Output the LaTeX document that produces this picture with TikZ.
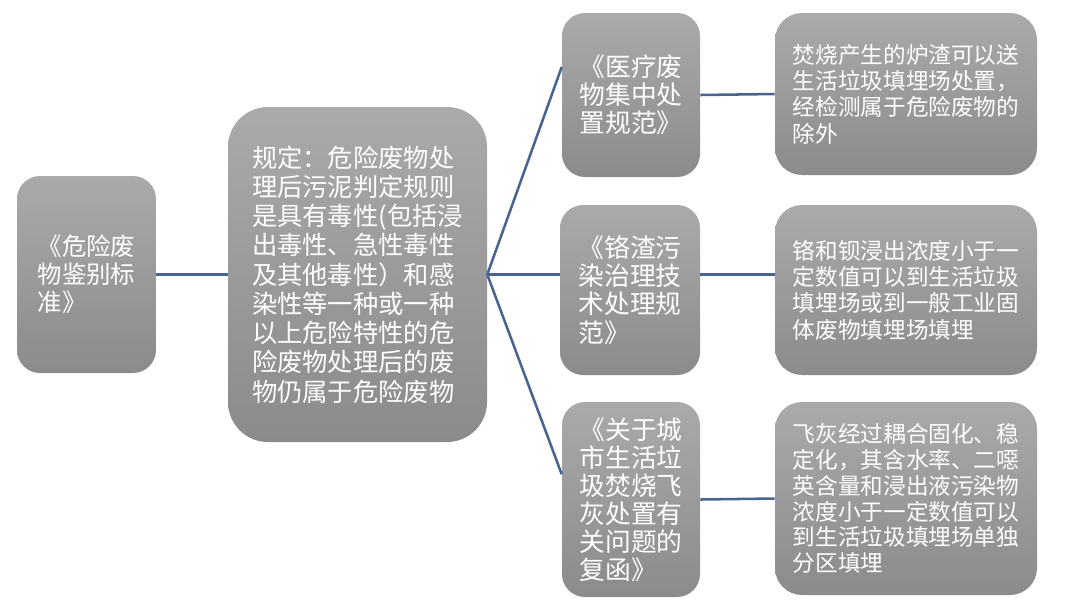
\documentclass[tikz,border=0pt]{standalone}
\usepackage{fontspec}
\setmainfont{Noto Sans CJK SC}

\definecolor{boxtop}{RGB}{170,170,170}
\definecolor{boxbottom}{RGB}{139,139,139}
\definecolor{linkblue}{RGB}{70,100,143}

\begin{document}
\begin{tikzpicture}[
    every node/.style={align=left, text=white},
    greybox/.style={
        top color=boxtop,
        bottom color=boxbottom,
        draw=none,
        inner sep=0pt
    },
    link/.style={
        draw=linkblue,
        line width=1.8pt
    }
]

\useasboundingbox (0,0) rectangle (27,-15.2);

% =================================================
% LINKS: NORM UND REGEL
% =================================================

% Identification standard
\node[
    greybox,
    rounded corners=0.575cm,
    minimum width=3.475cm,
    minimum height=4.925cm,
    font=\fontsize{17.4pt}{19.9pt}\selectfont
] (std) at (2.1625,-6.8625)
{《危险废\\物鉴别标\\准》};

% Rule box
\node[
    greybox,
    rounded corners=1.0cm,
    minimum width=6.475cm,
    minimum height=8.375cm,
    font=\fontsize{18pt}{20.8pt}\selectfont
] (rule) at (8.9375,-6.8625)
{规定：危险废物处\\
理后污泥判定规则\\
是具有毒性(包括浸\\
出毒性、急性毒性\\
及其他毒性）和感\\
染性等一种或一种\\
以上危险特性的危\\
险废物处理后的废\\
物仍属于危险废物};

% =================================================
% MITTE: DOKUMENTE
% =================================================

\node[
    greybox,
    rounded corners=0.575cm,
    minimum width=3.45cm,
    minimum height=4.1cm,
    font=\fontsize{18.3pt}{20pt}\selectfont
] (medical) at (15.775,-2.375)
{《医疗废\\物集中处\\置规范》};

\node[
    greybox,
    rounded corners=0.575cm,
    minimum width=3.5cm,
    minimum height=4.25cm,
    font=\fontsize{18.3pt}{20pt}\selectfont
] (chromium) at (15.75,-7.25)
{《铬渣污\\染治理技\\术处理规\\范》};

\node[
    greybox,
    rounded corners=0.575cm,
    minimum width=3.45cm,
    minimum height=4.875cm,
    font=\fontsize{18.3pt}{20pt}\selectfont
] (flyash) at (15.775,-12.4875)
{《关于城\\市生活垃\\圾焚烧飞\\灰处置有\\关问题的\\复函》};

% =================================================
% RECHTS: AUSNAHMEN
% =================================================

\node[
    greybox,
    rounded corners=0.675cm,
    minimum width=6.55cm,
    minimum height=4.05cm,
    font=\fontsize{16.1pt}{18.8pt}\selectfont
] (slag) at (22.65,-2.35)
{焚烧产生的炉渣可以送\\
生活垃圾填埋场处置，\\
经检测属于危险废物的\\
除外};

\node[
    greybox,
    rounded corners=0.675cm,
    minimum width=6.55cm,
    minimum height=4.25cm,
    font=\fontsize{16.1pt}{18.8pt}\selectfont
] (chromlimit) at (22.65,-7.25)
{铬和钡浸出浓度小于一\\
定数值可以到生活垃圾\\
填埋场或到一般工业固\\
体废物填埋场填埋};

\node[
    greybox,
    rounded corners=0.675cm,
    minimum width=6.55cm,
    minimum height=4.825cm,
    font=\fontsize{16.1pt}{18.4pt}\selectfont
] (ashlimit) at (22.65,-12.4625)
{飞灰经过耦合固化、稳\\
定化，其含水率、二噁\\
英含量和浸出液污染物\\
浓度小于一定数值可以\\
到生活垃圾填埋场单独\\
分区填埋};

% =================================================
% VERBINDUNGEN
% =================================================

\draw[link] (std.east) -- (rule.west);

% Fan out to the three documents
\draw[link] (rule.east) -- (medical.158);
\draw[link] (rule.east) -- (rule.east -| chromium.west);
\draw[link] (rule.east) -- (flyash.160);

% Document to exception
\draw[link] (medical.east) -- (slag.west);
\draw[link] (chromium.east |- rule.east) -- (chromlimit.west |- rule.east);
\draw[link] (flyash.east) -- (ashlimit.west);

\end{tikzpicture}
\end{document}
